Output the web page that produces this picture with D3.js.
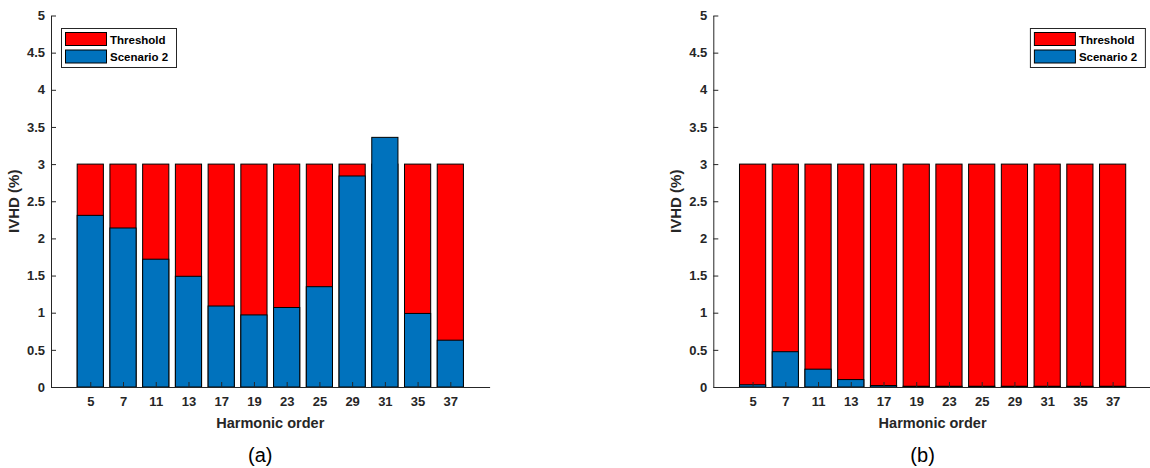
<!DOCTYPE html>
<html lang="en">
<head>
<meta charset="UTF-8">
<title>IVHD per harmonic</title>
<script src="https://cdn.jsdelivr.net/npm/d3@7"></script>
<style>
  body { margin: 0; background: #fff; }
  svg { display: block; font-family: "Liberation Sans", Arial, sans-serif; }
</style>
</head>
<body>
<svg id="chart" width="1150" height="468"></svg>
<script>
// harmonic orders on the x axis
const harmonics = ["5", "7", "11", "13", "17", "19", "23", "25", "29", "31", "35", "37"];
const yTicks = [0, 0.5, 1, 1.5, 2, 2.5, 3, 3.5, 4, 4.5, 5];
const seriesNames = ["Threshold", "Scenario 2"];

// IVHD (%) values
const thresholdA = [3, 3, 3, 3, 3, 3, 3, 3, 3, 3, 3, 3];
const scenarioA = [2.31, 2.14, 1.72, 1.49, 1.09, 0.97, 1.07, 1.35, 2.84, 3.36, 0.99, 0.63];
const thresholdB = [3, 3, 3, 3, 3, 3, 3, 3, 3, 3, 3, 3];
const scenarioB = [0.03, 0.475, 0.24, 0.10, 0.02, 0.01, 0.01, 0.01, 0.01, 0.01, 0.01, 0.01];

const RED = "#ff0000";
const BLUE = "#0072bd";
const INK = "#262626";

const svg = d3.select("#chart");

const y = d3.scaleLinear().domain([0, 5]).range([387, 15.5]);

const drawPanel = (left, threshold, scenario, legendSide, caption) => {
    const width = 438.6;
    // categories on index positions, with 1.2 units padding each side like matlab
    const x = d3.scaleLinear().domain([-1.2, harmonics.length - 1 + 1.2]).range([left, left + width]);
    const step = x(1) - x(0);
    const bw = step * 0.8;
    const g = svg.append("g");

    // threshold bars first, scenario drawn over them
    g.selectAll("rect.thr").data(threshold).join("rect")
        .attr("class", "thr")
        .attr("x", (d, i) => x(i) - bw / 2)
        .attr("width", bw)
        .attr("y", d => y(d))
        .attr("height", d => y(0) - y(d))
        .attr("fill", RED)
        .attr("stroke", "#000")
        .attr("stroke-width", 1);

    g.selectAll("rect.scn").data(scenario).join("rect")
        .attr("class", "scn")
        .attr("x", (d, i) => x(i) - bw / 2)
        .attr("width", bw)
        .attr("y", d => y(d))
        .attr("height", d => y(0) - y(d))
        .attr("fill", BLUE)
        .attr("stroke", "#000")
        .attr("stroke-width", 1);

    // y axis, ticks inside
    const yAxis = d3.axisLeft(y).tickValues(yTicks).tickSizeInner(-5).tickSizeOuter(0)
        .tickPadding(6).tickFormat(d3.format("~g"));
    const ya = g.append("g").attr("transform", `translate(${left},0)`).call(yAxis);
    ya.select(".domain").attr("stroke", INK);
    ya.selectAll(".tick line").attr("stroke", INK);
    ya.selectAll(".tick text").attr("fill", INK).attr("font-size", 13).attr("font-weight", "bold");

    // x axis, ticks at bar centres pointing up
    const xAxis = d3.axisBottom(x).tickValues(d3.range(harmonics.length))
        .tickFormat(i => harmonics[i]).tickSizeInner(-5).tickSizeOuter(0).tickPadding(10);
    const xa = g.append("g").attr("transform", `translate(0,${y(0)})`).call(xAxis);
    xa.select(".domain").attr("stroke", INK);
    xa.selectAll(".tick line").attr("stroke", INK);
    xa.selectAll(".tick text").attr("fill", INK).attr("font-size", 13).attr("font-weight", "bold");

    // axis titles
    g.append("text")
        .attr("transform", `translate(${left - 32},${(y(0) + y(5)) / 2}) rotate(-90)`)
        .attr("text-anchor", "middle")
        .attr("fill", INK).attr("font-size", 15).attr("font-weight", "bold")
        .text("IVHD (%)");
    g.append("text")
        .attr("x", left + width / 2).attr("y", 428)
        .attr("text-anchor", "middle")
        .attr("fill", INK).attr("font-size", 14.5).attr("font-weight", "bold")
        .text("Harmonic order");
    g.append("text")
        .attr("x", left + width / 2 - 10).attr("y", 462)
        .attr("text-anchor", "middle")
        .attr("fill", "#000").attr("font-size", 20)
        .text(caption);

    // legend box
    const lw = 115, lh = 39;
    const lx = legendSide === "left" ? left + 10 : left + width - 7 - lw;
    const ly = 28;
    const lg = g.append("g").attr("transform", `translate(${lx},${ly})`);
    lg.append("rect").attr("x", 0.5).attr("y", 0.5).attr("width", lw).attr("height", lh)
        .attr("fill", "#fff").attr("stroke", INK).attr("stroke-width", 1);
    [RED, BLUE].forEach((c, i) => {
        lg.append("rect").attr("x", 4.5).attr("y", 4.5 + i * 17.5).attr("width", 41).attr("height", 13)
            .attr("fill", c).attr("stroke", "#000");
        lg.append("text").attr("x", 49).attr("y", 15.5 + i * 17.5)
            .attr("fill", "#000").attr("font-size", 11.5).attr("font-weight", "bold")
            .text(seriesNames[i]);
    });
};

drawPanel(51, thresholdA, scenarioA, "left", "(a)");
drawPanel(713.3, thresholdB, scenarioB, "right", "(b)");
</script>
</body>
</html>
